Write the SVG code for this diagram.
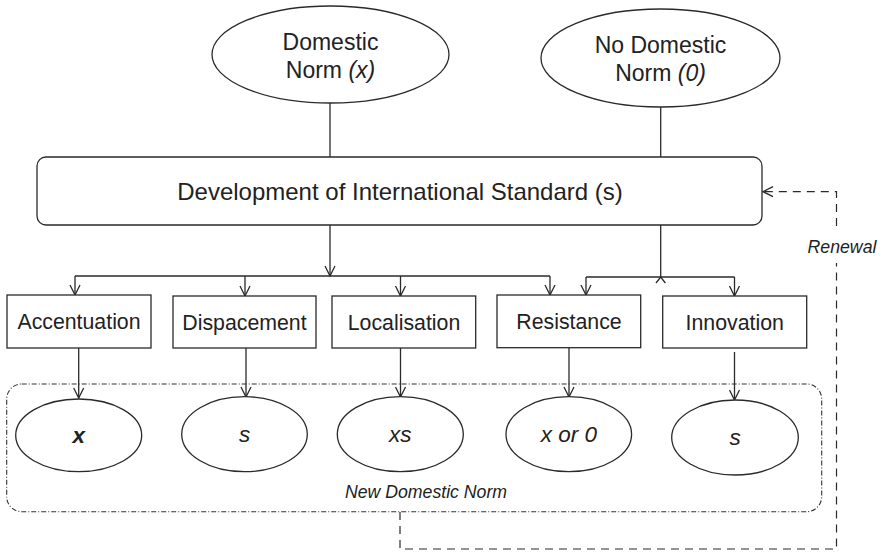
<svg xmlns="http://www.w3.org/2000/svg" width="883" height="552" viewBox="0 0 883 552">
<defs>
<style>
.ln{fill:none;stroke:#2a2a2a;stroke-width:1.3}
.dash{fill:none;stroke:#2a2a2a;stroke-width:1.2;stroke-dasharray:8 6}
.shape{fill:#fff;stroke:#2a2a2a;stroke-width:1.3}
.grp{fill:none;stroke:#333;stroke-width:1.1;stroke-dasharray:5 2 1 2}
text{font-family:"Liberation Sans",Arial,sans-serif;fill:#222;text-anchor:middle}
.big{font-size:23px}
.main{font-size:24px}
.out{font-size:22.5px;font-style:italic}
.lbl{font-size:21.3px}
.it{font-style:italic}
.sm{font-size:17.7px;font-style:italic}
</style>
<marker id="arr" viewBox="0 0 12 12" refX="11" refY="6" markerWidth="12" markerHeight="12" markerUnits="userSpaceOnUse" orient="auto">
<path d="M1,1 L11,6 L1,11" fill="none" stroke="#2a2a2a" stroke-width="1.3"/>
</marker>
</defs>
<rect width="883" height="552" fill="#fff"/>

<g id="connectors">
<path class="ln" d="M330,103 V157"/>
<path class="ln" d="M660.7,107 V157"/>
<path class="ln" d="M330,225 V276" marker-end="url(#arr)"/>
<path class="ln" d="M75,276 H550"/>
<path class="ln" d="M75,276 V295" marker-end="url(#arr)"/>
<path class="ln" d="M245,276 V296" marker-end="url(#arr)"/>
<path class="ln" d="M400.5,276 V296" marker-end="url(#arr)"/>
<path class="ln" d="M550,276 V295" marker-end="url(#arr)"/>
<path class="ln" d="M660.7,225 V277"/>
<path class="ln" d="M656,283 L660.7,277 L665.4,283"/>
<path class="ln" d="M586,277 H734.5"/>
<path class="ln" d="M586,277 V295" marker-end="url(#arr)"/>
<path class="ln" d="M734.5,277 V296" marker-end="url(#arr)"/>
<path class="ln" d="M78.7,348 V398" marker-end="url(#arr)"/>
<path class="ln" d="M246,348 V397" marker-end="url(#arr)"/>
<path class="ln" d="M400.5,348 V397" marker-end="url(#arr)"/>
<path class="ln" d="M569,348 V397" marker-end="url(#arr)"/>
<path class="ln" d="M734.5,352 V400" marker-end="url(#arr)"/>
<path class="dash" d="M400,512 V549 H836.5 V263"/>
<path class="dash" d="M836.5,226 V191.7 H763" marker-end="url(#arr)"/>
<text class="sm" x="842" y="252.5">Renewal</text>
</g>

<g id="domestic-norm">
<ellipse class="shape" cx="330.5" cy="54.5" rx="118.5" ry="48.5"/>
<text class="big" x="330.5" y="50">Domestic</text>
<text class="big" x="330.5" y="78">Norm <tspan class="it">(x)</tspan></text>
</g>

<g id="no-domestic-norm">
<ellipse class="shape" cx="660.5" cy="58" rx="119.5" ry="49"/>
<text class="big" x="660.5" y="53">No Domestic</text>
<text class="big" x="660.5" y="81">Norm <tspan class="it">(0)</tspan></text>
</g>

<g id="international-standard">
<rect class="shape" x="37" y="157" width="725" height="68" rx="9"/>
<text class="main" x="400" y="200">Development of International Standard (s)</text>
</g>

<g id="new-domestic-norm">
<rect class="grp" x="6.7" y="384" width="815" height="127.7" rx="15"/>
<text class="sm" x="426" y="498">New Domestic Norm</text>
</g>

<g id="accentuation">
<rect class="shape" x="7" y="295" width="144" height="53"/>
<text class="lbl" x="79" y="329">Accentuation</text>
</g>
<g id="dispacement">
<rect class="shape" x="173" y="296" width="143" height="52"/>
<text class="lbl" x="244.5" y="329.5">Dispacement</text>
</g>
<g id="localisation">
<rect class="shape" x="332" y="296" width="143.7" height="52"/>
<text class="lbl" x="404" y="329.5">Localisation</text>
</g>
<g id="resistance">
<rect class="shape" x="497" y="295" width="143.7" height="52.7"/>
<text class="lbl" x="569" y="329">Resistance</text>
</g>
<g id="innovation">
<rect class="shape" x="662.7" y="296" width="144" height="52"/>
<text class="lbl" x="734.7" y="329.5">Innovation</text>
</g>

<g id="out-x">
<ellipse class="shape" cx="78.7" cy="435.3" rx="63" ry="36.3"/>
<text class="out" x="78.7" y="443" font-weight="bold">x</text>
</g>
<g id="out-s1">
<ellipse class="shape" cx="244.5" cy="434.2" rx="62.8" ry="37.5"/>
<text class="out" x="244.5" y="442">s</text>
</g>
<g id="out-xs">
<ellipse class="shape" cx="400.3" cy="434.2" rx="63" ry="37.5"/>
<text class="out" x="400.3" y="442">xs</text>
</g>
<g id="out-x-or-0">
<ellipse class="shape" cx="568.8" cy="434.2" rx="62.8" ry="37.5"/>
<text class="out" x="568.8" y="442">x or 0</text>
</g>
<g id="out-s2">
<ellipse class="shape" cx="735" cy="437.5" rx="63.3" ry="37.5"/>
<text class="out" x="735" y="445">s</text>
</g>
</svg>
